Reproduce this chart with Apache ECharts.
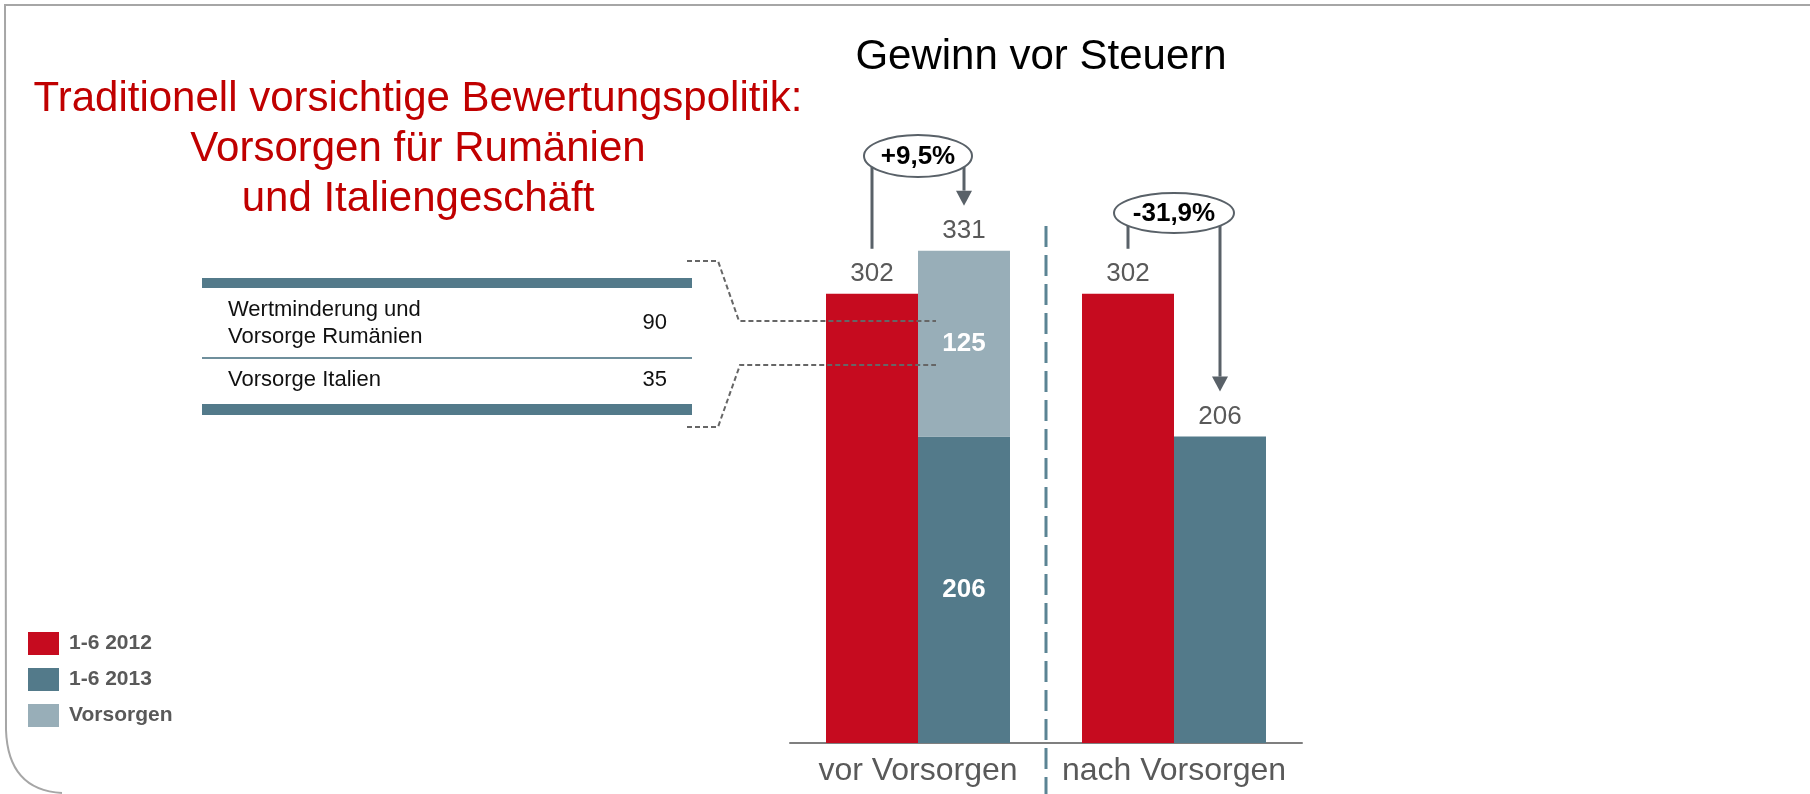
<!DOCTYPE html>
<html>
<head>
<meta charset="utf-8">
<script src="https://cdn.jsdelivr.net/npm/echarts@6/dist/echarts.min.js"></script>
<style>
html, body { margin: 0; padding: 0; background: #fff; }
#chart { width: 1810px; height: 794px; }
</style>
</head>
<body>
<div id="chart"></div>
<script>
// ── Daten ───────────────────────────────────────────────
const categories = ['vor Vorsorgen', 'nach Vorsorgen']
const seriesNames = ['1-6 2012', '1-6 2013', 'Vorsorgen']
const gewinn2012 = [302, 302]
const gewinn2013 = [206, 206]
const vorsorgen = [125, null]
const changeLabels = ['+9,5%', '-31,9%']
const tableLabels = ['Wertminderung und\nVorsorge Rumänien', 'Vorsorge Italien']
const tableValues = [90, 35]

const totals = gewinn2013.map((v, i) => v + (vorsorgen[i] || 0))

// ── Farben ──────────────────────────────────────────────
const RED = '#C60B1F'
const DARK = '#537A8A'
const LIGHT = '#98AEB8'
const GREY = '#595959'
const FONT = 'Arial, "Liberation Sans", Helvetica, sans-serif'
const BAR_W = 92

const chart = echarts.init(document.getElementById('chart'))

const valueLabel = { show: true, position: 'top', distance: 7, color: GREY, fontSize: 26, fontFamily: FONT }
const innerLabel = { show: true, position: 'inside', color: '#fff', fontSize: 26, fontWeight: 'bold', fontFamily: FONT }

const option = {
    animation: false,
    backgroundColor: '#fff',
    textStyle: { fontFamily: FONT },
    title: {
        text: 'Gewinn vor Steuern',
        left: 1036,
        top: 31,
        textAlign: 'center',
        textStyle: { fontSize: 42, fontWeight: 'normal', color: '#000', fontFamily: FONT },
    },
    legend: {
        data: seriesNames,
        orient: 'vertical',
        left: 23,
        top: 627,
        itemWidth: 31,
        itemHeight: 23,
        itemGap: 13,
        icon: 'rect',
        selectedMode: false,
        textStyle: { fontSize: 21, fontWeight: 'bold', color: GREY, fontFamily: FONT, padding: [0, 0, 0, 5] },
    },
    grid: { left: 790, width: 512, top: 148, bottom: 51 },
    xAxis: {
        type: 'category',
        data: categories,
        axisTick: { show: false },
        axisLine: { lineStyle: { color: '#7F7F7F', width: 2 } },
        axisLabel: { interval: 0, fontSize: 32, color: GREY, margin: 12, fontFamily: FONT },
    },
    yAxis: { type: 'value', min: 0, max: 400, show: false, splitLine: { show: false } },
    series: [
        {
            name: seriesNames[0], type: 'bar', data: gewinn2012,
            barWidth: BAR_W, barGap: '0%',
            itemStyle: { color: RED }, label: valueLabel,
        },
        {
            name: seriesNames[1], type: 'bar', stack: 'b', barWidth: BAR_W,
            data: gewinn2013.map((v, i) => vorsorgen[i] ? { value: v, label: innerLabel } : v),
            itemStyle: { color: DARK }, label: valueLabel,
        },
        {
            name: seriesNames[2], type: 'bar', stack: 'b', barWidth: BAR_W,
            data: vorsorgen.map(v => v == null ? '-' : v),
            itemStyle: { color: LIGHT }, label: innerLabel,
        },
        {
            // nur für die Summenbeschriftung (331)
            name: 'Summe', type: 'bar', stack: 'b', barWidth: BAR_W, silent: true,
            data: vorsorgen.map(v => v == null ? '-' : 0),
            itemStyle: { color: 'transparent' },
            label: { ...valueLabel, formatter: p => totals[p.dataIndex] },
        },
    ],
}

chart.setOption(option)

// ── Annotationen (aus den Achsen berechnet) ─────────────
const px = (ci, v) => chart.convertToPixel({ gridIndex: 0 }, [ci, v])
const ANN = { color: '#596168', width: 3, gap: 45, head: 15 }
const bubbles = [{ cy: 156, rx: 54, ry: 21 }, { cy: 213, rx: 60, ry: 20 }]

const graphic = []

// Rahmen der Folie
const frame = { stroke: '#A6A6A6', lineWidth: 2, fill: 'none' }
graphic.push(
    { type: 'polyline', silent: true, shape: { points: [[1810, 5], [5, 5], [6, 730]] }, style: frame },
    { type: 'bezierCurve', silent: true, shape: { x1: 6, y1: 730, cpx1: 8, cpy1: 790, x2: 62, y2: 793 }, style: frame },
)

// rote Überschrift
graphic.push({
    type: 'text', x: 418, y: 149,
    style: {
        text: 'Traditionell vorsichtige Bewertungspolitik:\nVorsorgen für Rumänien\nund Italiengeschäft',
        font: '42px ' + FONT, fill: '#C00000', align: 'center', verticalAlign: 'middle', lineHeight: 50,
    },
})

// Trennlinie zwischen den Kategorien
const c0 = px(0, 0), c1 = px(1, 0)
const divX = (c0[0] + c1[0]) / 2
graphic.push({
    type: 'line', silent: true,
    shape: { x1: divX, y1: 226, x2: divX, y2: 794 },
    style: { stroke: '#5B8494', lineWidth: 3, lineDash: [21, 8] },
})

categories.forEach((c, i) => {
    const cx = px(i, 0)[0]
    const redX = cx - BAR_W / 2
    const stackX = cx + BAR_W / 2
    const redTop = px(i, gewinn2012[i])[1]
    const stackTop = px(i, totals[i])[1]
    const b = bubbles[i]
    const tipY = stackTop - ANN.gap
    graphic.push(
        { type: 'line', z: 10, shape: { x1: redX, y1: b.cy, x2: redX, y2: redTop - ANN.gap },
          style: { stroke: ANN.color, lineWidth: ANN.width } },
        { type: 'line', z: 10, shape: { x1: stackX, y1: b.cy, x2: stackX, y2: tipY - ANN.head },
          style: { stroke: ANN.color, lineWidth: ANN.width } },
        { type: 'polygon', z: 10, shape: { points: [[stackX - 8, tipY - ANN.head], [stackX + 8, tipY - ANN.head], [stackX, tipY]] },
          style: { fill: ANN.color } },
        { type: 'ellipse', z: 11, shape: { cx: cx, cy: b.cy, rx: b.rx, ry: b.ry },
          style: { fill: '#fff', stroke: ANN.color, lineWidth: 2 } },
        { type: 'text', z: 12, x: cx, y: b.cy + 1,
          style: { text: changeLabels[i], font: 'bold 26px ' + FONT, fill: '#000', align: 'center', verticalAlign: 'middle' } },
    )
})

// Tabelle links
const T = { x1: 202, x2: 692 }
graphic.push(
    { type: 'rect', shape: { x: T.x1, y: 278, width: T.x2 - T.x1, height: 10 }, style: { fill: DARK } },
    { type: 'rect', shape: { x: T.x1, y: 357, width: T.x2 - T.x1, height: 2 }, style: { fill: '#6F8F9C' } },
    { type: 'rect', shape: { x: T.x1, y: 404, width: T.x2 - T.x1, height: 11 }, style: { fill: DARK } },
)
const rowY = [323, 380]
tableLabels.forEach((t, i) => {
    graphic.push(
        { type: 'text', x: 228, y: rowY[i], style: { text: t, font: '22px ' + FONT, fill: '#111', align: 'left', verticalAlign: 'middle', lineHeight: 27 } },
        { type: 'text', x: 667, y: rowY[i], style: { text: String(tableValues[i]), font: '22px ' + FONT, fill: '#111', align: 'right', verticalAlign: 'middle' } },
    )
})

// gestrichelte Verbinder zur Vorsorgen-Säule
const endX = px(0, 0)[0] + 18
const dash = { stroke: '#666', lineWidth: 2, lineDash: [5, 3], fill: 'none' }
graphic.push(
    { type: 'polyline', z: 9, shape: { points: [[687, 261], [718, 261], [739, 321], [endX, 321]] }, style: dash },
    { type: 'polyline', z: 9, shape: { points: [[687, 427], [718, 427], [740, 365], [endX, 365]] }, style: dash },
)

chart.setOption({ graphic: graphic })
</script>
</body>
</html>
